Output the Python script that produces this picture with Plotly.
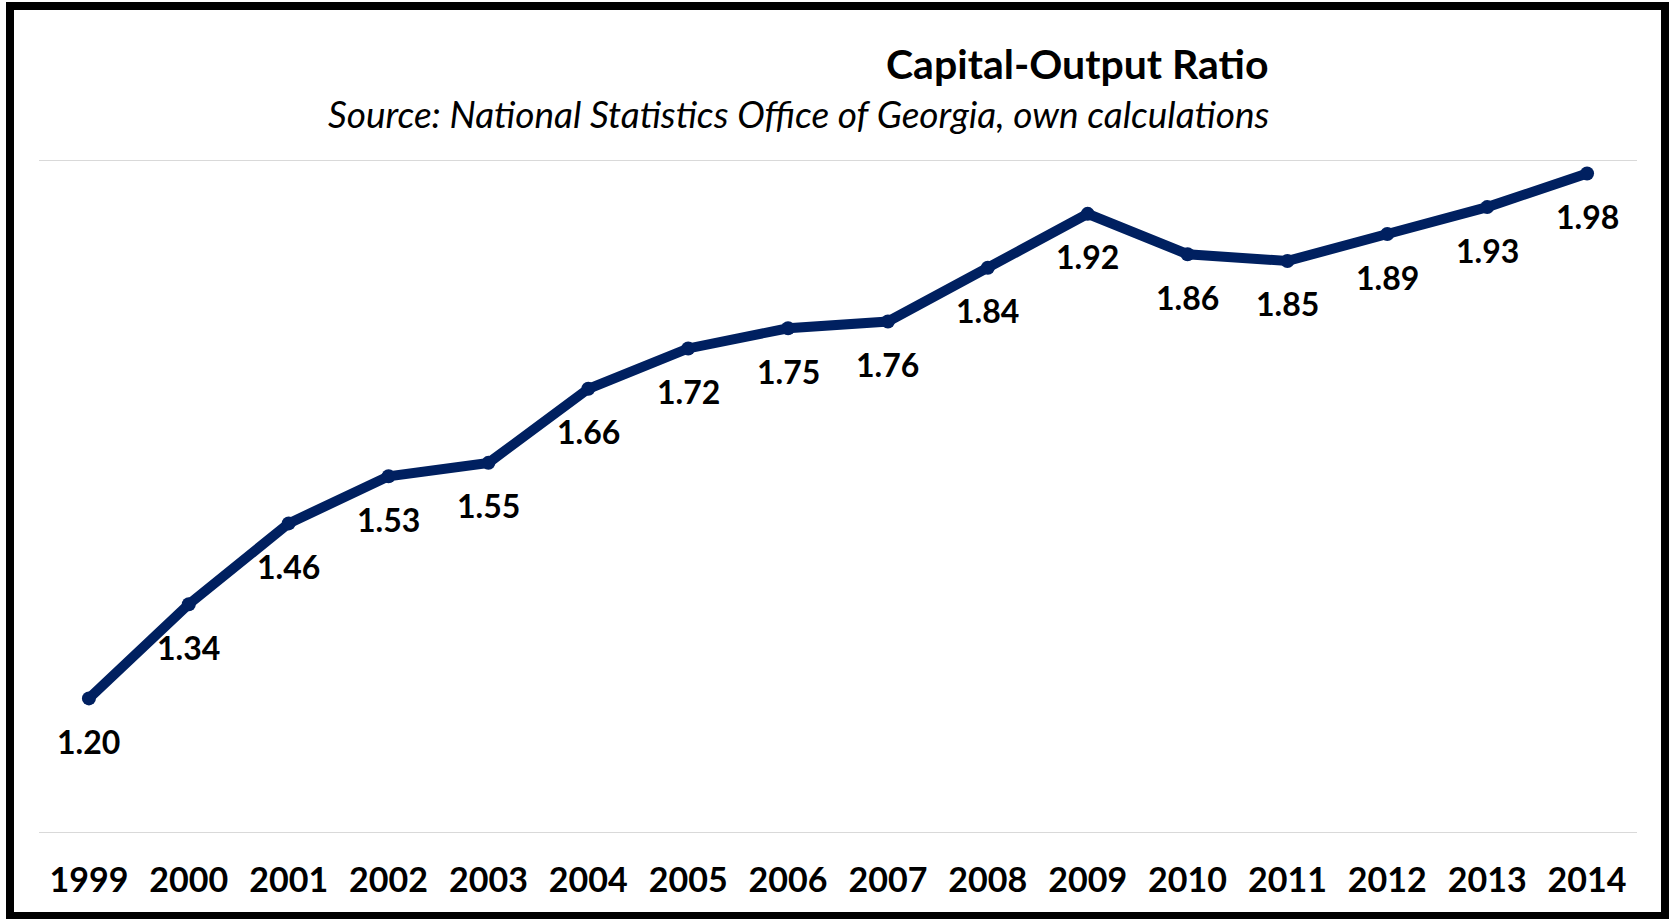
import plotly.graph_objects as go

years = ["1999", "2000", "2001", "2002", "2003", "2004", "2005", "2006",
         "2007", "2008", "2009", "2010", "2011", "2012", "2013", "2014"]
ratio = [1.20, 1.34, 1.46, 1.53, 1.55, 1.66, 1.72, 1.75,
         1.76, 1.84, 1.92, 1.86, 1.85, 1.89, 1.93, 1.98]
grid_values = [1.0, 2.0]

W, H = 1669, 919
ML, MR, MT, MB = 39, 32, 160, 86
PW, PH = W - ML - MR, H - MT - MB

def px_to_paper_x(px):
    return (px - ML) / PW

def px_to_paper_y(py):
    return (H - MB - py) / PH

navy = "#002060"

fig = go.Figure()
fig.add_trace(go.Scatter(
    x=years, y=ratio, mode="lines+markers",
    line=dict(color=navy, width=10),
    marker=dict(color=navy, size=14),
    hoverinfo="skip", showlegend=False,
))

for i, v in enumerate(ratio):
    fig.add_annotation(x=i, y=v, xref="x", yref="y", text=f"{v:.2f}", showarrow=False,
                       yshift=-43, xanchor="center", yanchor="middle",
                       font=dict(family="Lato", size=32, color="black", weight="bold"))

for g in grid_values:
    fig.add_shape(type="line", xref="paper", yref="y", x0=0, x1=1, y0=g, y1=g,
                  line=dict(color="#d9d9d9", width=2), layer="below")

# outer frame
fig.add_shape(type="rect", xref="paper", yref="paper",
              x0=px_to_paper_x(10), x1=px_to_paper_x(1665),
              y0=px_to_paper_y(916), y1=px_to_paper_y(6),
              line=dict(color="black", width=8), fillcolor="rgba(0,0,0,0)")

fig.add_annotation(xref="paper", yref="paper", x=px_to_paper_x(1271), y=px_to_paper_y(63),
                   text="Capital-Output Ratio", showarrow=False, xanchor="right", yanchor="middle",
                   font=dict(family="Lato", size=41, color="black", weight="bold"))
fig.add_annotation(xref="paper", yref="paper", x=px_to_paper_x(1271), y=px_to_paper_y(113),
                   text="Source: National Statistics Office of Georgia, own calculations",
                   showarrow=False, xanchor="right", yanchor="middle",
                   font=dict(family="Lato", size=37, color="black", style="italic"))

fig.update_layout(
    width=W, height=H, autosize=False,
    margin=dict(l=ML, r=MR, t=MT, b=MB, pad=0),
    paper_bgcolor="white", plot_bgcolor="white",
    xaxis=dict(type="category", range=[-0.5, len(years) - 0.5], showgrid=False,
               zeroline=False, showline=False, ticks="",
               tickfont=dict(family="Lato", size=34, color="black", weight="bold"),
               ticklabelstandoff=24),
    yaxis=dict(range=[grid_values[0], grid_values[-1]], showgrid=False, zeroline=False,
               showticklabels=False, showline=False),
)

fig.write_html("out.html")
